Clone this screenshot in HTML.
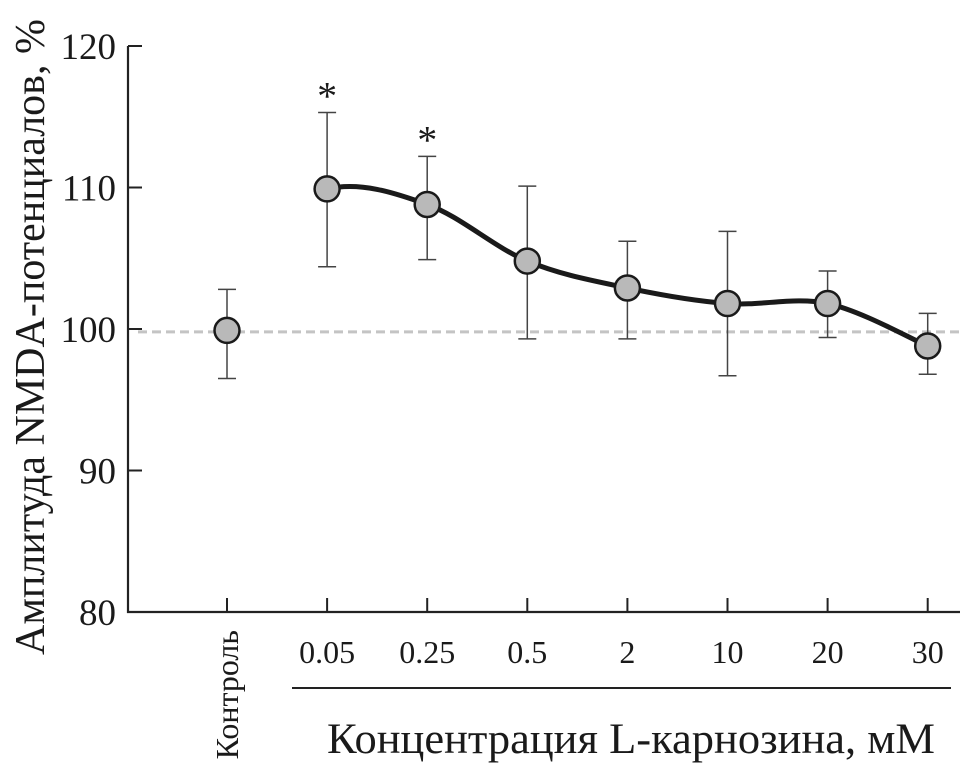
<!DOCTYPE html>
<html><head><meta charset="utf-8"><style>
html,body{margin:0;padding:0;background:#fff;}
svg text{font-family:"Liberation Serif",serif;fill:#1a1a1a;}
</style></head><body>
<svg id="chart" width="960" height="776" viewBox="0 0 960 776" xmlns="http://www.w3.org/2000/svg">
<g id="axes"></g><g id="marks"></g>
</svg>
<script>
const categories = ["Контроль","0.05","0.25","0.5","2","10","20","30"];
const means = [99.9,109.9,108.8,104.8,102.9,101.8,101.8,98.8];
const errLow = [96.5,104.4,104.9,99.3,99.3,96.7,99.4,96.8];
const errHigh = [102.8,115.3,112.2,110.1,106.2,106.9,104.1,101.1];
const significant = [false,true,true,false,false,false,false,false];
const yTicks = [80,90,100,110,120];
const baseline = 99.8;

const NS="http://www.w3.org/2000/svg";
const y0=612, yPer=14.15;
function yS(v){return y0-(v-80)*yPer;}
function xS(i){return 227+i*100.1;}
function mk(tag,attrs,parent,text){const e=document.createElementNS(NS,tag);for(const k in attrs)e.setAttribute(k,attrs[k]);if(text!==undefined)e.textContent=text;parent.appendChild(e);return e;}
const axes=document.getElementById('axes'), marks=document.getElementById('marks');

let e=mk('line',{x1:128,y1:yS(120),x2:128,y2:y0+1,stroke:'#222','stroke-width':2.2},axes);

e=mk('line',{x1:127,y1:y0,x2:960,y2:y0,stroke:'#222','stroke-width':2.2},axes);

yTicks.forEach(v=>{
  let t=mk('line',{x1:128,y1:yS(v),x2:142,y2:yS(v),stroke:'#222','stroke-width':2},axes);
  
  let l=mk('text',{x:116,y:yS(v)+13,'text-anchor':'end','font-size':37},axes,String(v));
  
});
categories.forEach((c,i)=>{
  let t=mk('line',{x1:xS(i),y1:y0,x2:xS(i),y2:y0-14,stroke:'#222','stroke-width':2},axes);
  
  let l;
  if(i===0){l=mk('text',{x:0,y:0,'text-anchor':'end','font-size':32,transform:`translate(${xS(i)+11},630) rotate(-90)`},axes,c);}
  else l=mk('text',{x:xS(i),y:663,'text-anchor':'middle','font-size':32},axes,c);
  
});
e=mk('line',{x1:292,y1:688,x2:951,y2:688,stroke:'#222','stroke-width':2},axes);

e=mk('text',{x:631,y:753,'text-anchor':'middle','font-size':43,textLength:608,lengthAdjust:'spacingAndGlyphs'},axes,'Концентрация L-карнозина, мМ');

e=mk('text',{x:0,y:0,'text-anchor':'middle','font-size':42,textLength:636,lengthAdjust:'spacingAndGlyphs',transform:'translate(44,337) rotate(-90)'},axes,'Амплитуда NMDA-потенциалов, %');


e=mk('line',{x1:138,y1:yS(baseline),x2:960,y2:yS(baseline),stroke:'#c4c4c4','stroke-width':3,'stroke-dasharray':'9,5'},marks);


const pts=[];for(let i=1;i<means.length;i++)pts.push([xS(i),yS(means[i])]);
const pre=[pts[0][0]-100,pts[0][1]+60];
let d=`M${pts[0][0]},${pts[0][1]}`;
for(let i=0;i<pts.length-1;i++){
  const p0=i===0?pre:pts[i-1],p1=pts[i],p2=pts[i+1],p3=pts[Math.min(pts.length-1,i+2)];
  const c1=[p1[0]+(p2[0]-p0[0])/6,p1[1]+(p2[1]-p0[1])/6],c2=[p2[0]-(p3[0]-p1[0])/6,p2[1]-(p3[1]-p1[1])/6];
  d+=` C${c1[0]},${c1[1]} ${c2[0]},${c2[1]} ${p2[0]},${p2[1]}`;
}
e=mk('path',{d:d,fill:'none',stroke:'#1a1a1a','stroke-width':5},marks);


categories.forEach((c,i)=>{
  const x=xS(i);
  let g=mk('g',{},marks);
  
  mk('line',{x1:x,y1:yS(errLow[i]),x2:x,y2:yS(errHigh[i]),stroke:'#444','stroke-width':1.5},g);
  mk('line',{x1:x-9,y1:yS(errLow[i]),x2:x+9,y2:yS(errLow[i]),stroke:'#444','stroke-width':1.5},g);
  mk('line',{x1:x-9,y1:yS(errHigh[i]),x2:x+9,y2:yS(errHigh[i]),stroke:'#444','stroke-width':1.5},g);
  let p=mk('circle',{cx:x,cy:yS(means[i]),r:12.5,fill:'#b9b9b9',stroke:'#1a1a1a','stroke-width':2.5},marks);
  
  if(significant[i]){
    let s=mk('text',{x:x,y:yS(errHigh[i])-3,'text-anchor':'middle','font-size':40},marks,'*');
    
  }
});
</script>
</body></html>
